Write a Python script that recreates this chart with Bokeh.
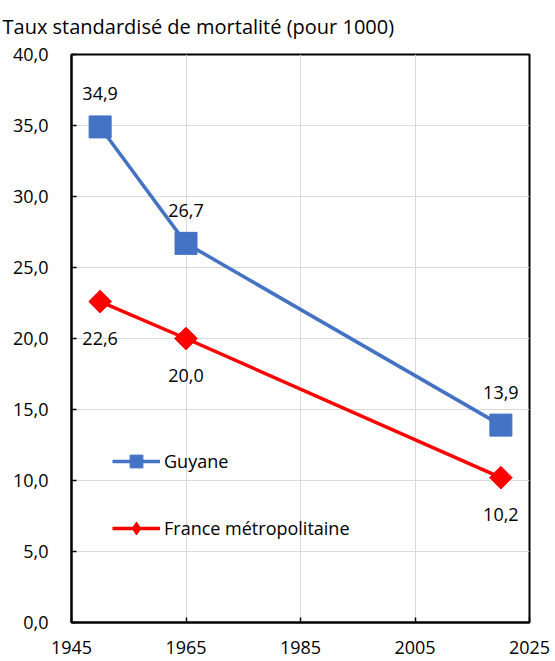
import math
from bokeh.plotting import figure
from bokeh.models import (ColumnDataSource, Range1d, LabelSet, Legend, LegendItem,
                          FixedTicker)
from bokeh.core.properties import value
from bokeh.embed import file_html
from bokeh.resources import INLINE

# ---- data ----
years = [1950, 1965, 2020]
guyane = [34.9, 26.7, 13.9]
france = [22.6, 20.0, 10.2]
guyane_labels = ["34,9", "26,7", "13,9"]
france_labels = ["22,6", "20,0", "10,2"]
x_ticks = [1945, 1965, 1985, 2005, 2025]
y_ticks = [0, 5, 10, 15, 20, 25, 30, 35, 40]
y_tick_labels = ["0,0", "5,0", "10,0", "15,0", "20,0", "25,0", "30,0", "35,0", "40,0"]
title_text = "Taux standardisé de mortalité (pour 1000)"
series_names = ["Guyane", "France métropolitaine"]

FONT = "Open Sans"
BLUE = "#4472C4"
RED = "#FF0000"

p = figure(width=555, height=661, output_backend="svg", toolbar_location=None,
           x_range=Range1d(1945, 2025), y_range=Range1d(0, 40),
           min_border_left=71, min_border_right=26, min_border_top=54,
           min_border_bottom=39, title=title_text)

p.title.text_font = FONT
p.title.text_font_size = "20px"
p.title.text_font_style = "normal"
p.title.text_color = "black"
p.title.align = "left"
p.title.vertical_align = "top"
p.title.offset = -69
p.title.standoff = 25

src_g = ColumnDataSource(dict(x=years, y=guyane, t=guyane_labels))
src_f = ColumnDataSource(dict(x=years, y=france, t=france_labels))

lg = p.line("x", "y", source=src_g, line_color=BLUE, line_width=3.5)
sg = p.scatter("x", "y", source=src_g, marker="square", size=22,
               fill_color=BLUE, line_color=BLUE)
lf = p.line("x", "y", source=src_f, line_color=RED, line_width=3.5)
# legend-only diamond glyph (zero size in the plot, hidden under the markers)
df = p.scatter("x", "y", source=src_f, marker="diamond", size=0,
               fill_color=RED, line_color=RED)
sf = p.scatter("x", "y", source=src_f, marker="square", size=16, angle=math.pi / 4,
               fill_color=RED, line_color=RED)

p.add_layout(LabelSet(x="x", y="y", text="t", source=src_g, y_offset=33,
                      text_align="center", text_baseline="middle",
                      text_font=value(FONT), text_font_size=value("18px"),
                      text_color="black"))
p.add_layout(LabelSet(x="x", y="y", text="t", source=src_f, y_offset=-37,
                      text_align="center", text_baseline="middle",
                      text_font=value(FONT), text_font_size=value("18px"),
                      text_color="black"))

legend = Legend(items=[LegendItem(label=series_names[0], renderers=[lg, sg]),
                       LegendItem(label=series_names[1], renderers=[lf, df])],
                location=(41, 78), orientation="vertical",
                glyph_width=48, glyph_height=32, spacing=35, padding=0, margin=0,
                label_standoff=4, label_text_font=FONT, label_text_font_size="18px",
                label_text_color="black", background_fill_alpha=0,
                border_line_alpha=0)
p.add_layout(legend, "center")

# axes
p.xaxis.ticker = FixedTicker(ticks=x_ticks)
p.yaxis.ticker = FixedTicker(ticks=y_ticks)
p.yaxis.major_label_overrides = {t: l for t, l in zip(y_ticks, y_tick_labels)}
for ax in (p.xaxis[0], p.yaxis[0]):
    ax.axis_line_color = "black"
    ax.axis_line_width = 2
    ax.major_tick_in = 5
    ax.major_tick_out = 0
    ax.major_tick_line_color = "black"
    ax.major_tick_line_width = 1.5
    ax.minor_tick_line_color = None
    ax.major_label_text_font = FONT
    ax.major_label_text_font_size = "18px"
    ax.major_label_text_color = "black"
p.yaxis.major_label_standoff = 23
p.xaxis.major_label_standoff = 18

p.xgrid.grid_line_color = "#D9D9D9"
p.ygrid.grid_line_color = "#D9D9D9"
p.xgrid.grid_line_width = 1
p.ygrid.grid_line_width = 1
p.outline_line_color = "black"
p.outline_line_width = 2
p.background_fill_color = "white"
p.border_fill_color = "white"

open("out.html", "w").write(file_html(p, INLINE))
